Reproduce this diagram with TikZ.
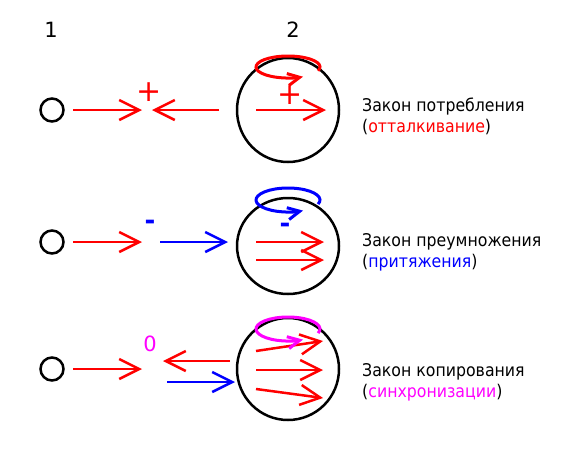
\documentclass[tikz,border=0pt]{standalone}
\usepackage{fontspec}
\setmainfont{DejaVu Sans}
\newfontfamily\lawfont[FakeStretch=0.9]{DejaVu Sans}
\usepackage{xcolor}
\usepackage{tikz}
\usetikzlibrary{shapes,arrows,positioning,calc,arrows.meta}
\definecolor{lawred}{RGB}{255,0,0}
\definecolor{lawblue}{RGB}{0,0,255}
\definecolor{lawpink}{RGB}{255,0,255}

\begin{document}
\begin{tikzpicture}[x=1pt, y=-1pt,
    vec/.style={line width=2.5pt, -{Straight Barb[length=20pt,width=20pt]}},
    spin/.style={line width=3pt, -{Straight Barb[length=12pt,width=12pt]}},
    probe/.style={draw, circle, line width=2.5pt, minimum size=23pt, inner sep=0pt},
    body/.style={draw, ellipse, line width=2.5pt, inner sep=0pt, minimum width=102pt, minimum height=104pt},
    lawtext/.style={font=\lawfont\fontsize{17.5}{20}\selectfont, anchor=base west, inner sep=0pt},
    sign/.style={font=\fontsize{30}{32}\selectfont, inner sep=0pt},
    minus/.style={font=\fontsize{26}{28}\selectfont\bfseries, inner sep=0pt},
    digit/.style={font=\fontsize{21}{24}\selectfont, inner sep=0pt}]
        \useasboundingbox (0,0) rectangle (580,458);

        \node[digit, anchor=base] (n1) at (51,37) {1};
        \node[digit, anchor=base] (n2) at (293,37) {2};

        % row 1: consumption
        \node[probe] (p1) at (52,110) {};
        \node[body] (b1) at (288,110) {};
        \coordinate (r1a) at (73,110); \coordinate (r1b) at (142,110);
        \coordinate (r1c) at (219,110); \coordinate (r1d) at (152,110);
        \coordinate (r1e) at (256,110); \coordinate (r1f) at (326,110);
        \draw[vec, lawred] (r1a) -- (r1b);
        \draw[vec, lawred] (r1c) -- (r1d);
        \draw[vec, lawred] (r1e) -- (r1f);
        \draw[spin, lawred] (288,67) ++(20:32 and 11) arc[start angle=20, end angle=-298, x radius=32, y radius=11];
        \node[sign, lawred] (s1) at (149,92) {+};
        \node[sign, lawred] (s1i) at (290,95) {+};
        \node[lawtext] (t1) at (362,111) {Закон потребления};
        \node[lawtext] (t1b) at (362,132) {(\textcolor{lawred}{отталкивание})};

        % row 2: multiplication
        \node[probe] (p2) at (52,242) {};
        \node[body, minimum height=96pt] (b2) at (288,246) {};
        \coordinate (r2a) at (73,242); \coordinate (r2b) at (142,242);
        \coordinate (r2c) at (160,242); \coordinate (r2d) at (228,242);
        \coordinate (r2e) at (256,242); \coordinate (r2f) at (324,242);
        \coordinate (r2g) at (256,260); \coordinate (r2h) at (324,260);
        \draw[vec, lawred] (r2a) -- (r2b);
        \draw[vec, lawblue] (r2c) -- (r2d);
        \draw[vec, lawred] (r2e) -- (r2f);
        \draw[vec, lawred] (r2g) -- (r2h);
        \draw[spin, lawblue] (288,200) ++(20:32 and 12) arc[start angle=20, end angle=-298, x radius=32, y radius=12];
        \node[minus, lawblue] (s2) at (150,225) {-};
        \node[minus, lawblue] (s2i) at (285,228) {-};
        \node[lawtext] (t2) at (362,246) {Закон преумножения};
        \node[lawtext] (t2b) at (362,267) {(\textcolor{lawblue}{притяжения})};

        % row 3: copying
        \node[probe] (p3) at (52,369) {};
        \node[body, minimum height=102pt] (b3) at (288,369) {};
        \coordinate (r3a) at (73,369); \coordinate (r3b) at (142,369);
        \coordinate (r3c) at (230,361); \coordinate (r3d) at (163,361);
        \coordinate (r3e) at (167,382); \coordinate (r3f) at (235,382);
        \coordinate (r3g) at (256,351); \coordinate (r3h) at (323,341);
        \coordinate (r3i) at (256,370); \coordinate (r3j) at (323,370);
        \coordinate (r3k) at (256,389); \coordinate (r3l) at (323,398);
        \draw[vec, lawred] (r3a) -- (r3b);
        \draw[vec, lawred] (r3c) -- (r3d);
        \draw[vec, lawblue] (r3e) -- (r3f);
        \draw[vec, lawred] (r3g) -- (r3h);
        \draw[vec, lawred] (r3i) -- (r3j);
        \draw[vec, lawred] (r3k) -- (r3l);
        \draw[spin, lawpink] (288,329) ++(20:32 and 12) arc[start angle=20, end angle=-298, x radius=32, y radius=12];
        \node[digit, lawpink] (s3) at (150,344) {0};
        \node[lawtext] (t3) at (362,376) {Закон копирования};
        \node[lawtext] (t3b) at (362,397) {(\textcolor{lawpink}{синхронизации})};
    \end{tikzpicture}
\end{document}
